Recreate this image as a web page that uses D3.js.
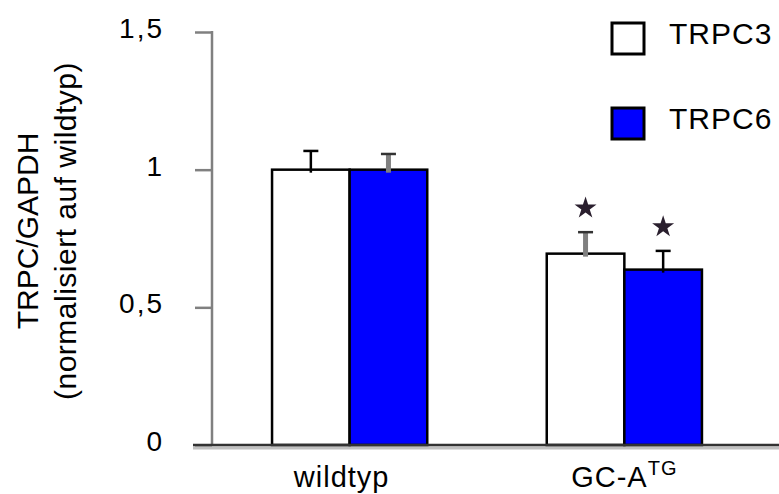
<!DOCTYPE html>
<html>
  <head>
    <meta charset="utf-8">
    <script src="https://d3js.org/d3.v7.min.js" charset="utf-8"></script>
    <style>
      body { margin: 0; background: white; }
      text { font-family: "Liberation Sans", Arial, sans-serif; fill: black; }
    </style>
  </head>
  <body>
    <svg id="chart" width="779" height="494"></svg>
    <script type="text/javascript">
      // values
      var groups = ["wildtyp", "GC-A"];
      var groupSup = ["", "TG"];
      var series = ["TRPC3", "TRPC6"];
      var means = [[1.0, 1.0], [0.695, 0.637]];
      var errors = [[0.068, 0.057], [0.078, 0.068]];
      var signif = [[false, false], [true, true]];
      var yTicks = [0, 0.5, 1, 1.5];
      var yTickLabels = ["0", "0,5", "1", "1,5"];

      var colors = {"TRPC3": "#ffffff", "TRPC6": "#0000ff"};
      // which error bars are drawn in grey in the original
      var greyErr = {"wildtyp|TRPC6": true, "GC-A|TRPC3": true};

      var svg = d3.select("#chart");

      var y = d3.scaleLinear()
        .domain([0, 1.5])
        .range([445, 32]);

      var x0 = d3.scaleBand()
        .domain(groups)
        .range([212, 762])
        .paddingInner(0.435)
        .paddingOuter(0.2186);

      var x1 = d3.scaleBand()
        .domain(series)
        .range([0, x0.bandwidth()]);

      // y axis
      var yAxis = d3.axisLeft(y)
        .tickValues(yTicks)
        .tickFormat(function(d, i) { return yTickLabels[i]; })
        .tickSize(17)
        .tickPadding(31);

      var ya = svg.append("g")
        .attr("transform", "translate(212,0)")
        .call(yAxis);
      ya.select(".domain").remove();
      ya.selectAll(".tick line").attr("stroke", "#808080").attr("stroke-width", 2.5);
      ya.selectAll(".tick text")
        .attr("font-size", 28)
        .attr("dy", "0.2em")
        .attr("letter-spacing", 2)
        .style("font-family", "Liberation Sans, Arial, sans-serif");
      ya.append("line")
        .attr("x1", 0).attr("x2", 0)
        .attr("y1", y(1.5) - 1).attr("y2", y(0))
        .attr("stroke", "#808080").attr("stroke-width", 2.5);

      // baseline (dark line with a light shadow under it)
      svg.append("line")
        .attr("x1", 193).attr("x2", 779)
        .attr("y1", y(0) + 3).attr("y2", y(0) + 3)
        .attr("stroke", "#c0c0c0").attr("stroke-width", 3);

      // bars
      var rows = [];
      groups.forEach(function(g, gi) {
        series.forEach(function(s, si) {
          rows.push({g: g, s: s, v: means[gi][si], e: errors[gi][si], star: signif[gi][si]});
        });
      });

      var bars = svg.append("g");
      bars.selectAll("rect")
        .data(rows)
        .join("rect")
        .attr("x", function(d) { return x0(d.g) + x1(d.s); })
        .attr("y", function(d) { return y(d.v); })
        .attr("width", x1.bandwidth())
        .attr("height", function(d) { return y(0) - y(d.v); })
        .attr("fill", function(d) { return colors[d.s]; })
        .attr("stroke", "black")
        .attr("stroke-width", 2.5);

      svg.append("line")
        .attr("x1", 193).attr("x2", 779)
        .attr("y1", y(0)).attr("y2", y(0))
        .attr("stroke", "#333333").attr("stroke-width", 2.5);

      // error bars
      var errs = svg.append("g");
      rows.forEach(function(d) {
        var cx = x0(d.g) + x1(d.s) + x1.bandwidth() / 2;
        var grey = greyErr[d.g + "|" + d.s];
        errs.append("line")
          .attr("x1", cx).attr("x2", cx)
          .attr("y1", y(d.v) + 3).attr("y2", y(d.v + d.e))
          .attr("stroke", grey ? "#808080" : "black")
          .attr("stroke-width", grey ? 5 : 2.5);
        errs.append("line")
          .attr("x1", cx - 7.5).attr("x2", cx + 7.5)
          .attr("y1", y(d.v + d.e)).attr("y2", y(d.v + d.e))
          .attr("stroke", grey ? "#333333" : "black")
          .attr("stroke-width", 2.5);
        if (d.star) {
          errs.append("path")
            .attr("d", d3.symbol().type(d3.symbolStar).size(150)())
            .attr("transform", "translate(" + cx + "," + (y(d.v + d.e) - 24) + ")")
            .attr("fill", "#2a1f2e");
        }
      });

      // x labels
      var labelDx = {"wildtyp": -8, "GC-A": 0};
      var xl = svg.append("g");
      groups.forEach(function(g, gi) {
        var t = xl.append("text")
          .attr("x", x0(g) + x0.bandwidth() / 2 + labelDx[g])
          .attr("y", 487)
          .attr("text-anchor", "middle")
          .attr("font-size", 29)
          .attr("letter-spacing", 1);
        t.append("tspan").text(g);
        if (groupSup[gi]) {
          t.append("tspan").attr("dy", -12).attr("font-size", 20).text(groupSup[gi]);
        }
      });

      // y title
      var yt = svg.append("text")
        .attr("transform", "translate(0,231) rotate(-90)")
        .attr("text-anchor", "middle")
        .attr("font-size", 30);
      yt.append("tspan").attr("x", 0).attr("y", 38).text("TRPC/GAPDH");
      yt.append("tspan").attr("x", 0).attr("y", 76)
        .attr("letter-spacing", 0.5)
        .text("(normalisiert auf wildtyp)");

      // legend
      var leg = svg.append("g");
      series.forEach(function(s, i) {
        var row = leg.append("g").attr("transform", "translate(612," + (23 + i * 85) + ")");
        row.append("rect")
          .attr("width", 32).attr("height", 31)
          .attr("fill", colors[s])
          .attr("stroke", "black")
          .attr("stroke-width", 3);
        row.append("text")
          .attr("x", 57).attr("y", 21)
          .attr("font-size", 30)
          .attr("letter-spacing", 1)
          .text(s);
      });
    </script>
  </body>
</html>
